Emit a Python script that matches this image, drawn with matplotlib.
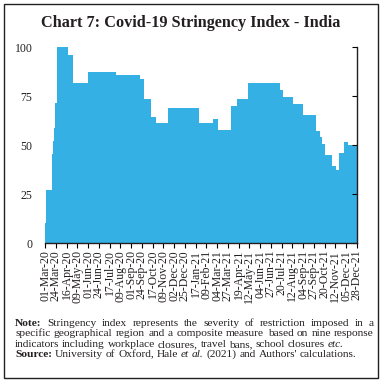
import numpy as np
import matplotlib
matplotlib.use('Agg')
import matplotlib.pyplot as plt
from matplotlib.patches import Rectangle

# ---- data (run-length reading of daily stringency index, 01-Mar-20 .. 28-Dec-21)
levels = [10.2, 26.9, 38.9, 45.4, 52.3, 59.0, 71.3, 100.0, 96.3, 81.9, 87.4, 85.7,
          83.8, 73.4, 64.2, 61.5, 69.0, 61.5, 63.4, 57.8, 74.4, 70.0, 73.4, 81.9,
          78.2, 74.4, 70.9, 65.2, 57.1, 54.2, 50.6, 45.0, 39.4, 37.3, 45.8, 51.4, 49.9]
run_days = [3, 11, 2, 2, 2, 1, 4, 24, 11, 32, 59, 52, 10, 14, 11, 26, 66, 29, 12, 27,
            1, 13, 22, 70, 6, 20, 23, 28, 7, 5, 7, 15, 7, 7, 11, 8, 20]
tick_labels = ["01-Mar-20", "24-Mar-20", "16-Apr-20", "09-May-20", "01-Jun-20",
               "24-Jun-20", "17-Jul-20", "09-Aug-20", "01-Sep-20", "24-Sep-20",
               "17-Oct-20", "09-Nov-20", "02-Dec-20", "25-Dec-20", "17-Jan-21",
               "09-Feb-21", "04-Mar-21", "27-Mar-21", "19-Apr-21", "12-May-21",
               "04-Jun-21", "27-Jun-21", "20-Jul-21", "12-Aug-21", "04-Sep-21",
               "27-Sep-21", "20-Oct-21", "12-Nov-21", "05-Dec-21", "28-Dec-21"]
yticks = [0, 25, 50, 75, 100]
title = "Chart 7: Covid-19 Stringency Index - India"

values = np.repeat(levels, run_days)
days = np.arange(len(values))

SERIF = 'Liberation Serif'
TXT = '#231f20'
plt.rcParams['font.family'] = SERIF

W = H = 383
fig = plt.figure(figsize=(W / 100, H / 100), dpi=100)

def fx(px):
    return px / W

def fy(py):
    return (H - py) / H

ax = fig.add_axes([fx(45), fy(243), (357 - 45) / W, (243 - 47.3) / H])
ax.bar(days, values, width=1.0, color='#35B0E4', linewidth=0)
ax.set_xlim(-0.5, len(values) - 0.5)
ax.set_ylim(0, 100)
ax.set_yticks(yticks)
ax.set_yticklabels([str(v) for v in yticks], fontsize=8.5, color=TXT)
tick_pos = np.arange(0, len(values), 23)
ax.set_xticks(tick_pos)
ax.set_xticklabels(tick_labels, rotation=90, fontsize=8.5, color=TXT)
for s in ['left', 'top']:
    ax.spines[s].set_visible(False)
for s in ['right', 'bottom']:
    ax.spines[s].set_linewidth(1.0)
    ax.spines[s].set_color('#231f20')
ax.tick_params(axis='y', left=False, right=True, labelleft=True, labelright=False,
               direction='in', length=3.5, width=0.8, pad=9)
ax.tick_params(axis='x', direction='out', length=3.5, width=0.8, pad=1.5)

# title
fig.text(fx(191), fy(23), title, ha='center', va='center', fontsize=11.7,
         fontweight='bold', color=TXT)

# outer frame
fig.patches.append(Rectangle((fx(4), fy(378)), (378 - 4) / W, (378 - 4) / H,
                             transform=fig.transFigure, fill=False,
                             edgecolor='#231f20', linewidth=1.0))

# note lines with word-level styling
FS = 8.2
renderer = fig.canvas.get_renderer()

def draw_line(tokens, baseline, left=15, right=374, justify=False):
    arts = []
    widths = []
    for word, weight, style in tokens:
        t = fig.text(0, fy(baseline), word, fontsize=FS, fontweight=weight,
                     fontstyle=style, color=TXT, va='baseline', ha='left')
        arts.append(t)
        widths.append(t.get_window_extent(renderer).width)
    space = 0.25 * FS * 100 / 72
    if justify and len(arts) > 1:
        space = (right - left - sum(widths)) / (len(arts) - 1)
    x = left
    for t, w in zip(arts, widths):
        t.set_x(fx(x))
        x += w + space

def tok(s, weight='normal', style='normal'):
    return [(w, weight, style) for w in s.split()]

line1 = tok("Note:", 'bold') + tok("Stringency index represents the severity of restriction imposed in a")
line2 = tok("specific geographical region and a composite measure based on nine response")
line3 = tok("indicators including workplace closures, travel bans, school closures") + tok("etc.", style='italic')
line4 = (tok("Source:", 'bold') + tok("University of Oxford, Hale") + tok("et al.", style='italic')
         + tok("(2021) and Authors' calculations."))

draw_line(line1, 326, justify=True)
draw_line(line2, 336.5, justify=True)
draw_line(line3, 347)
draw_line(line4, 357)

fig.savefig('out.png', dpi=100)
